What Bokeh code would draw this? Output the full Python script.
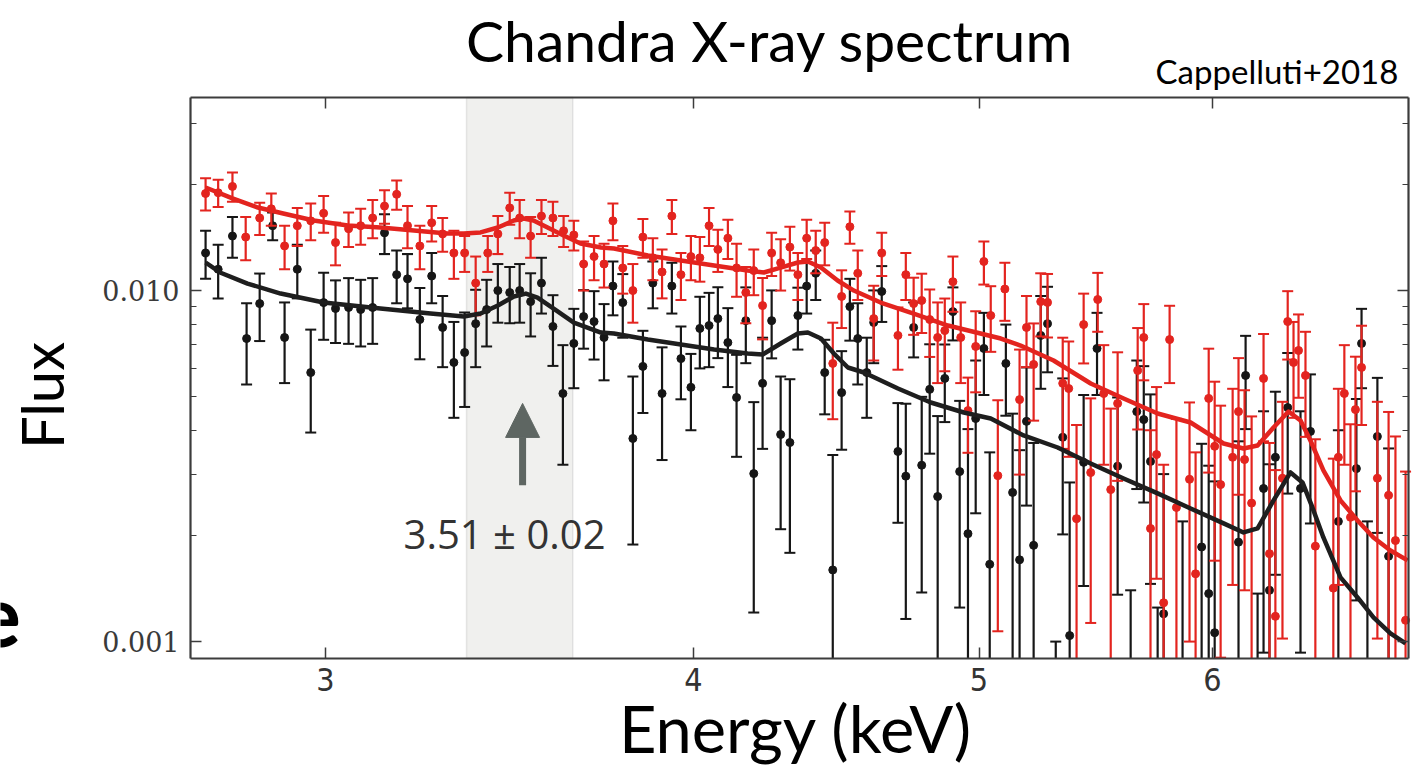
from math import pi, log10
from bokeh.plotting import figure
from bokeh.models import (FixedTicker, LogAxis, Label, BoxAnnotation, Arrow,
                          NormalHead, PrintfTickFormatter, CustomJSTickFormatter)
from bokeh.embed import file_html
from bokeh.resources import INLINE

# ---------------- texts / ticks ----------------
title_text = "Chandra X-ray spectrum"
credit_text = "Cappelluti+2018"
x_label = "Energy (keV)"
y_label = "Flux"
line_label = "3.51 \u00b1 0.02"
x_ticks = [3, 4, 5, 6]
y_ticks = [0.001, 0.01]
y_minor = [0.002, 0.003, 0.004, 0.005, 0.006, 0.007, 0.008, 0.009, 0.02, 0.03]
x_box = (2.70, 6.994)          # energy limits of the axes box (keV)
y_box = (0.000895, 0.03548)    # flux limits of the axes box

# highlighted band and line energy (keV)
band_lo, band_hi = 3.35, 3.64
line_energy = 3.50
arrow_from, arrow_to = 0.00279, 0.00477

# ---------------- red data set ----------------
red_E = [2.732, 2.759, 2.790, 2.819, 2.850, 2.876, 2.906, 2.935, 2.966, 2.996,
         3.024, 3.055, 3.084, 3.113, 3.142, 3.172, 3.199, 3.230, 3.260, 3.288,
         3.317, 3.345, 3.374, 3.406, 3.433, 3.465, 3.492, 3.522, 3.552, 3.584,
         3.614, 3.643, 3.671, 3.701, 3.730, 3.756, 3.785, 3.815, 3.845, 3.875,
         3.903, 3.933, 3.961, 3.992, 4.020, 4.049, 4.077, 4.109, 4.137, 4.167,
         4.193, 4.222, 4.252, 4.282, 4.313, 4.340, 4.370, 4.401, 4.432, 4.460,
         4.491, 4.520, 4.548, 4.605, 4.634, 4.693, 4.722, 4.751, 4.781, 4.811,
         4.841, 4.868, 4.899, 4.929, 4.957, 4.987, 5.019, 5.046, 5.074, 5.102,
         5.161, 5.189, 5.218, 5.247, 5.275, 5.338, 5.363, 5.396, 5.426, 5.456,
         5.486, 5.512, 5.542, 5.572, 5.660, 5.687, 5.717, 5.744, 5.776, 5.803,
         5.834, 5.894, 5.922, 5.983, 6.011, 6.039, 6.096, 6.124, 6.153, 6.187,
         6.245, 6.274, 6.303, 6.338, 6.364, 6.393, 6.418, 6.453, 6.503, 6.595,
         6.621, 6.652, 6.684, 6.710, 6.742, 6.826, 6.886, 6.923, 6.978]
red_F = [0.0189, 0.0190, 0.0198, 0.0142, 0.0161, 0.0171, 0.0134, 0.0153, 0.0158, 0.0166,
         0.0137, 0.0150, 0.0153, 0.0161, 0.0174, 0.0188, 0.0153, 0.0134, 0.0156, 0.0145,
         0.0128, 0.0128, 0.0105, 0.0128, 0.0145, 0.0172, 0.0161, 0.0143, 0.0163, 0.0161,
         0.0148, 0.0144, 0.0119, 0.0125, 0.0119, 0.0158, 0.0116, 0.0100, 0.0142, 0.0124,
         0.0113, 0.0163, 0.0111, 0.0125, 0.0124, 0.0153, 0.0131, 0.0141, 0.0116, 0.00987,
         0.0114, 0.00906, 0.0128, 0.0120, 0.0133, 0.0111, 0.0141, 0.0130, 0.0137, 0.00620,
         0.00962, 0.0152, 0.0112, 0.00832, 0.0128, 0.00745, 0.0111, 0.00918, 0.00937, 0.00827,
         0.00735, 0.00769, 0.0106, 0.00735, 0.00455, 0.00693, 0.0121, 0.00849, 0.00297, 0.0101,
         0.00489, 0.00785, 0.00616, 0.00930, 0.00925, 0.00544, 0.00526, 0.00224, 0.00800, 0.00303,
         0.00943, 0.00509, 0.00271, 0.00477, 0.00592, 0.00735, 0.00210, 0.00341, 0.00129, 0.00725,
         0.00241, 0.00290, 0.00156, 0.00493, 0.00360, 0.00280, 0.00335, 0.00452, 0.00330, 0.00248,
         0.00562, 0.00178, 0.00118, 0.00292, 0.00816, 0.00624, 0.00675, 0.00573, 0.00187, 0.00142,
         0.00335, 0.00509, 0.00226, 0.00458, 0.00604, 0.00292, 0.00261, 0.00194, 0.00115]
red_err = [0.0020, 0.0017, 0.0019, 0.0020, 0.0017, 0.0018, 0.0019, 0.0019, 0.0019, 0.0020,
           0.0019, 0.0017, 0.0018, 0.0020, 0.0019, 0.0018, 0.0021, 0.0019, 0.0018, 0.0016,
           0.0020, 0.0015, 0.0020, 0.0015, 0.0018, 0.0018, 0.0020, 0.0019, 0.0018, 0.0018,
           0.0015, 0.0014, 0.0019, 0.0018, 0.0017, 0.0019, 0.0018, 0.0019, 0.0018, 0.0017,
           0.0018, 0.0018, 0.0017, 0.0018, 0.0018, 0.0019, 0.0018, 0.0018, 0.0020, 0.0018,
           0.0017, 0.0018, 0.0018, 0.0020, 0.0019, 0.0017, 0.0018, 0.0018, 0.0019, 0.0019,
           0.0018, 0.0016, 0.0018, 0.0020, 0.0018, 0.0015, 0.0017, 0.0017, 0.0018, 0.0018,
           0.0019, 0.0018, 0.0019, 0.0019, 0.0011, 0.0018, 0.0017, 0.0018, 0.0019, 0.0019,
           0.0019, 0.0018, 0.0019, 0.0019, 0.0019, 0.0019, 0.0019, 0.0019, 0.0018, 0.0019,
           0.0018, 0.0019, 0.0019, 0.0019, 0.0019, 0.0018, 0.0019, 0.0019, 0.0019, 0.0018,
           0.0019, 0.0019, 0.0019, 0.0019, 0.0019, 0.0019, 0.0019, 0.0019, 0.0019, 0.0019,
           0.0019, 0.0019, 0.0019, 0.0019, 0.0018, 0.0019, 0.0018, 0.0019, 0.0019, 0.0019,
           0.0019, 0.0019, 0.0019, 0.0019, 0.0019, 0.0019, 0.0019, 0.0019, 0.0019]

# ---------------- black data set ----------------
blk_E = [2.732, 2.759, 2.790, 2.821, 2.850, 2.879, 2.906, 2.935, 2.966, 2.996,
         3.024, 3.055, 3.084, 3.113, 3.142, 3.172, 3.199, 3.230, 3.260, 3.288,
         3.317, 3.345, 3.374, 3.403, 3.433, 3.465, 3.492, 3.522, 3.552, 3.584,
         3.612, 3.643, 3.671, 3.701, 3.730, 3.756, 3.785, 3.815, 3.845, 3.875,
         3.903, 3.933, 3.961, 3.992, 4.020, 4.049, 4.077, 4.109, 4.137, 4.167,
         4.193, 4.222, 4.252, 4.282, 4.313, 4.340, 4.370, 4.401, 4.432, 4.460,
         4.491, 4.520, 4.548, 4.580, 4.605, 4.634, 4.693, 4.722, 4.751, 4.781,
         4.811, 4.841, 4.868, 4.899, 4.925, 4.957, 4.987, 5.019, 5.042, 5.106,
         5.133, 5.161, 5.189, 5.218, 5.247, 5.275, 5.309, 5.338, 5.367, 5.426,
         5.483, 5.572, 5.629, 5.656, 5.687, 5.717, 5.749, 5.776, 5.862, 5.950,
         5.983, 6.011, 6.124, 6.158, 6.216, 6.245, 6.274, 6.303, 6.364, 6.428,
         6.478, 6.621, 6.715, 6.742, 6.773, 6.826, 6.886]
blk_F = [0.0128, 0.0115, 0.0143, 0.00730, 0.00918, 0.0153, 0.00735, 0.0115, 0.00584, 0.00924,
         0.00889, 0.00895, 0.00883, 0.00895, 0.0146, 0.0111, 0.0108, 0.00827, 0.0110, 0.00785,
         0.00624, 0.00666, 0.00805, 0.00883, 0.0100, 0.00987, 0.0100, 0.00930, 0.0105, 0.00790,
         0.00509, 0.00707, 0.00843, 0.00816, 0.00735, 0.0103, 0.00924, 0.00379, 0.00608, 0.0105,
         0.00509, 0.0103, 0.00640, 0.00530, 0.00780, 0.00795, 0.00832, 0.00711, 0.00496, 0.00821,
         0.00301, 0.00544, 0.00821, 0.00389, 0.00369, 0.00849, 0.0103, 0.0112, 0.00584, 0.00160,
         0.00512, 0.00900, 0.00730, 0.00584, 0.00811, 0.00994, 0.00348, 0.00296, 0.00785, 0.00318,
         0.00523, 0.00259, 0.00562, 0.00871, 0.00305, 0.00203, 0.00432, 0.00684, 0.00166, 0.00620,
         0.00266, 0.00171, 0.00424, 0.00188, 0.00745, 0.00805, 0.00040, 0.00382, 0.00104, 0.00324,
         0.00684, 0.00316, 0.00050, 0.00452, 0.00429, 0.00326, 0.00040, 0.00120, 0.00060, 0.00186,
         0.00137, 0.00106, 0.00192, 0.00573, 0.00040, 0.00273, 0.00140, 0.00335, 0.00464, 0.00273,
         0.00397, 0.00220, 0.00311, 0.00707, 0.00050, 0.00384, 0.00175]
blk_err = [0.0020, 0.0020, 0.0019, 0.0019, 0.0020, 0.0014, 0.0019, 0.0020, 0.0019, 0.0020,
           0.0018, 0.0019, 0.0019, 0.0019, 0.0019, 0.0019, 0.0019, 0.0019, 0.0018, 0.0018,
           0.0019, 0.0020, 0.0020, 0.0019, 0.0019, 0.0018, 0.0019, 0.0019, 0.0019, 0.0018,
           0.0019, 0.0018, 0.0016, 0.0018, 0.0018, 0.0018, 0.0019, 0.0019, 0.0016, 0.0016,
           0.0018, 0.0017, 0.0015, 0.0013, 0.0018, 0.0019, 0.0019, 0.0018, 0.0016, 0.0020,
           0.0018, 0.0019, 0.0018, 0.0018, 0.0019, 0.0017, 0.0017, 0.0018, 0.0014, 0.0018,
           0.0016, 0.0018, 0.0019, 0.0015, 0.0019, 0.0018, 0.0013, 0.0018, 0.0014, 0.0018,
           0.0018, 0.0018, 0.0014, 0.0015, 0.0018, 0.0020, 0.0020, 0.0018, 0.0018, 0.0018,
           0.0018, 0.0018, 0.0018, 0.0018, 0.0022, 0.0022, 0.0006, 0.0018, 0.0018, 0.0018,
           0.0018, 0.0018, 0.0009, 0.0018, 0.0018, 0.0018, 0.00085, 0.0018, 0.0016, 0.0018,
           0.0018, 0.0018, 0.0018, 0.0017, 0.00097, 0.0018, 0.0018, 0.0018, 0.0020, 0.0018,
           0.0018, 0.0018, 0.0018, 0.0018, 0.0017, 0.0018, 0.0018]

# ---------------- model curves ----------------
red_model_E = [2.732, 2.790, 2.846, 2.903, 2.973, 3.053, 3.132, 3.215, 3.300, 3.343,
               3.387, 3.433, 3.476, 3.503, 3.530, 3.569, 3.614, 3.662, 3.721, 3.759,
               3.860, 3.961, 4.065, 4.173, 4.226, 4.282, 4.340, 4.374, 4.419, 4.477,
               4.534, 4.630, 4.751, 4.880, 5.086, 5.165, 5.300, 5.456, 5.598, 5.749,
               5.899, 6.053, 6.148, 6.216, 6.294, 6.368, 6.428, 6.478, 6.544, 6.632,
               6.721, 6.805, 6.896, 6.989]
red_model_F = [0.01966, 0.01830, 0.01724, 0.01658, 0.01583, 0.01532, 0.01512, 0.01483, 0.01454, 0.01454,
               0.01464, 0.01512, 0.01583, 0.01605, 0.01583, 0.01512, 0.01435, 0.01362, 0.01327, 0.01318,
               0.01259, 0.01218, 0.01179, 0.01141, 0.01126, 0.01163, 0.01202, 0.01210, 0.01163, 0.01068,
               0.01000, 0.009243, 0.008600, 0.007950, 0.007301, 0.006973, 0.006320, 0.005435, 0.004926, 0.004464,
               0.004208, 0.003667, 0.003549, 0.003620, 0.004073, 0.004523, 0.004264, 0.003740, 0.003073, 0.002524,
               0.002214, 0.001980, 0.001818, 0.001703]
blk_model_E = [2.732, 2.763, 2.823, 2.897, 2.996, 3.132, 3.257, 3.343, 3.387, 3.433,
               3.476, 3.509, 3.541, 3.586, 3.643, 3.721, 3.759, 3.860, 3.961, 4.065,
               4.173, 4.222, 4.282, 4.340, 4.374, 4.419, 4.464, 4.513, 4.570, 4.693,
               4.815, 4.941, 5.046, 5.177, 5.317, 5.456, 5.598, 5.749, 5.899, 6.053,
               6.148, 6.216, 6.294, 6.378, 6.438, 6.488, 6.544, 6.632, 6.721, 6.805,
               6.896, 6.978]
blk_model_F = [0.01202, 0.01126, 0.01047, 0.009805, 0.009243, 0.008888, 0.008600, 0.008433, 0.008600, 0.009064,
               0.009615, 0.009805, 0.009552, 0.008888, 0.008107, 0.007593, 0.007544, 0.007253, 0.007018, 0.006793,
               0.006616, 0.006573, 0.007065, 0.007543, 0.007593, 0.007301, 0.006616, 0.006037, 0.005842, 0.005260,
               0.004799, 0.004494, 0.004321, 0.003865, 0.003572, 0.003217, 0.002916, 0.002643, 0.002395, 0.002171,
               0.002046, 0.002101, 0.002524, 0.003033, 0.002841, 0.002411, 0.001980, 0.001524, 0.001336, 0.001172,
               0.001055, 0.000988]

# ---------------- layout (styling) ----------------
W, H = 1422, 772
BOX_L, BOX_R, BOX_T, BOX_B = 190, 1408, 97, 658   # pixel box of the axes
kx = (BOX_R - BOX_L) / log10(x_box[1] / x_box[0])
ky = (BOX_B - BOX_T) / log10(y_box[1] / y_box[0])
canvas_x = (x_box[0] / 10 ** (BOX_L / kx), x_box[1] * 10 ** ((W - BOX_R) / kx))
canvas_y = (y_box[0] / 10 ** ((H - BOX_B) / ky), y_box[1] * 10 ** (BOX_T / ky))

RED = "#e3241f"
BLK = "#161616"
AXC = "#3c3c3c"

p = figure(width=W, height=H, x_axis_type="log", y_axis_type="log",
           x_range=canvas_x, y_range=canvas_y, output_backend="svg", toolbar_location=None,
           min_border=0, background_fill_color="white", border_fill_color="white")
p.xgrid.visible = False
p.ygrid.visible = False
p.outline_line_color = None

bottom_ax = p.below[0]
left_ax = p.left[0]
top_ax = LogAxis(formatter=CustomJSTickFormatter(code="return '';"))
right_ax = LogAxis(formatter=CustomJSTickFormatter(code="return '';"))
p.add_layout(top_ax, "above")
p.add_layout(right_ax, "right")

bottom_ax.ticker = FixedTicker(ticks=x_ticks, minor_ticks=[])
top_ax.ticker = FixedTicker(ticks=x_ticks, minor_ticks=[])
left_ax.ticker = FixedTicker(ticks=y_ticks, minor_ticks=y_minor)
right_ax.ticker = FixedTicker(ticks=y_ticks, minor_ticks=y_minor)
bottom_ax.formatter = PrintfTickFormatter(format="%d")
left_ax.formatter = PrintfTickFormatter(format="%.3f")

bottom_ax.fixed_location = y_box[0]
top_ax.fixed_location = y_box[1]
left_ax.fixed_location = x_box[0]
right_ax.fixed_location = x_box[1]
for ax in [bottom_ax, top_ax]:
    ax.bounds = x_box
for ax in [left_ax, right_ax]:
    ax.bounds = y_box

for ax in [bottom_ax, left_ax, top_ax, right_ax]:
    ax.axis_line_color = AXC
    ax.axis_line_width = 2.2
    ax.major_tick_line_color = AXC
    ax.major_tick_line_width = 1.5
    ax.minor_tick_line_color = AXC
    ax.minor_tick_line_width = 1.2
    ax.major_tick_in = 11
    ax.major_tick_out = 0
    ax.minor_tick_in = 6
    ax.minor_tick_out = 0
left_ax.major_label_text_font = "DejaVu Serif"
left_ax.major_label_text_font_size = "27px"
left_ax.major_label_text_color = "#3a3a3a"
left_ax.major_label_standoff = 11
bottom_ax.major_label_text_font = "DejaVu Sans Condensed, Liberation Sans"
bottom_ax.major_label_text_font_size = "32px"
bottom_ax.major_label_text_color = "#333333"
bottom_ax.major_label_standoff = 9

# highlighted band
p.add_layout(BoxAnnotation(left=band_lo, right=band_hi, bottom=y_box[0], top=y_box[1],
                           fill_color="#f0f0ee", fill_alpha=1.0,
                           line_color="#b4b4b4", line_width=1.5, level="underlay"))


def draw_set(E, F, err, color):
    sx, s0, s1, cx, cy, dx, dy = [], [], [], [], [], [], []
    for e, f, s in zip(E, F, err):
        lo, hi = f - s, f + s
        if hi <= y_box[0]:
            continue
        sx.append(e)
        s0.append(max(lo, y_box[0]))
        s1.append(min(hi, y_box[1]))
        if y_box[0] < hi < y_box[1]:
            cx.append(e); cy.append(hi)
        if lo > y_box[0]:
            cx.append(e); cy.append(lo)
        if y_box[0] < f < y_box[1]:
            dx.append(e); dy.append(f)
    p.segment(x0=sx, y0=s0, x1=sx, y1=s1, line_color=color, line_width=2.2)
    p.scatter(x=cx, y=cy, marker="dash", size=11, line_color=color, line_width=2)
    p.scatter(x=dx, y=dy, marker="circle", size=8, fill_color=color, line_color=color)


draw_set(blk_E, blk_F, blk_err, BLK)
draw_set(red_E, red_F, red_err, RED)

p.line(blk_model_E, blk_model_F, line_color="#1e1e1e", line_width=4.5, line_join="round")
p.line(red_model_E, red_model_F, line_color=RED, line_width=4.5, line_join="round")

# arrow & line label
gray = "#5e6662"
p.add_layout(Arrow(end=NormalHead(size=34, fill_color=gray, line_color=gray),
                   x_start=line_energy, y_start=arrow_from, x_end=line_energy, y_end=arrow_to,
                   line_color=gray, line_width=7))
p.add_layout(Label(x=3.451, y=0.00203, text=line_label, text_font="Open Sans",
                   text_font_size="40px", text_color="#333333", text_align="center",
                   text_baseline="middle"))

# titles / axis labels placed through the data scales
p.add_layout(Label(x=4.246, y=0.05190, text=title_text, text_font="Lato",
                   text_font_size="57px", text_color="black", text_align="center",
                   text_baseline="middle"))
p.add_layout(Label(x=6.939, y=0.04235, text=credit_text, text_font="Lato",
                   text_font_size="33px", text_color="black", text_align="right",
                   text_baseline="middle"))
p.add_layout(Label(x=2.403, y=0.005024, text=y_label, text_font="Lato",
                   text_font_size="58px", text_color="black", text_align="center",
                   text_baseline="middle", angle=pi / 2))
p.add_layout(Label(x=4.333, y=0.0005655, text=x_label, text_font="Lato",
                   text_font_size="65px", text_color="black", text_align="center",
                   text_baseline="middle"))
p.add_layout(Label(x=2.3229, y=0.001186, text="e", text_font="Lato", text_font_style="bold",
                   text_font_size="86px", text_color="black", text_align="center",
                   text_baseline="middle"))

open("out.html", "w").write(file_html(p, INLINE))
